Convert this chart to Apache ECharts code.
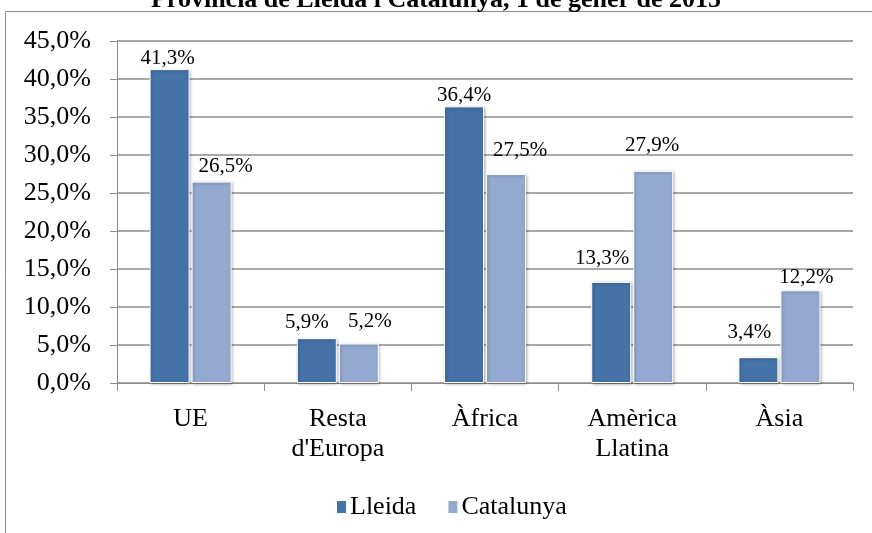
<!DOCTYPE html>
<html>
<head>
<meta charset="utf-8">
<script src="https://cdn.jsdelivr.net/npm/echarts@6/dist/echarts.min.js"></script>
<style>
  html, body { margin: 0; padding: 0; background: #fff; }
  #chart { width: 872px; height: 533px; }
</style>
</head>
<body>
<div id="chart"></div>
<script>
// dades
var categories = ['UE', "Resta\nd'Europa", 'Àfrica', 'Amèrica\nLlatina', 'Àsia'];
var lleida = [41.3, 5.9, 36.4, 13.3, 3.4];
var catalunya = [26.5, 5.2, 27.5, 27.9, 12.2];
var yTicks = [0, 5, 10, 15, 20, 25, 30, 35, 40, 45];

// desplaçament de les etiquetes (com a l'Excel original)
var offLleida = [[-2, 0], [-10, -5], [0, 0], [-9, -13], [-9, -14]];
var offCatalunya = [[14, -5], [11, -11], [14, -13], [-1, -15], [6, -2]];

var serif = '"Liberation Serif", "Times New Roman", serif';

function fmt(v) {
	return v.toFixed(1).replace('.', ',') + '%';
}

function items(values, offs) {
	var out = [];
	for (var i = 0; i < values.length; i++) {
		out.push({ value: values[i], label: { offset: offs[i] } });
	}
	return out;
}

var myChart = echarts.init(document.getElementById('chart'));

var option = {
	backgroundColor: '#fff',
	animation: false,
	graphic: [{
		type: 'rect',
		shape: { x: 5.5, y: 11.5, width: 900, height: 600 },
		style: { fill: 'none', stroke: '#8c8c8c', lineWidth: 1 },
		silent: true
	}],
	title: {
		text: 'Província de Lleida i Catalunya, 1 de gener de 2015',
		left: 'center',
		top: -18,
		textStyle: { fontFamily: serif, fontWeight: 'bold', fontSize: 26, color: '#000' }
	},
	legend: {
		left: 330,
		top: 489,
		itemWidth: 11,
		itemHeight: 14,
		itemGap: 30,
		icon: 'rect',
		textStyle: { fontFamily: serif, fontSize: 26, color: '#000', padding: [0, 0, 0, -2] },
		data: ['Lleida', 'Catalunya']
	},
	grid: { left: 117, right: 19, top: 41, bottom: 150 },
	xAxis: {
		type: 'category',
		data: categories,
		axisLine: { lineStyle: { color: '#8c8c8c', width: 1 } },
		axisTick: { show: true, length: 8, lineStyle: { color: '#8c8c8c' } },
		axisLabel: { fontFamily: serif, fontSize: 26, color: '#000', margin: 21, lineHeight: 30, interval: 0 }
	},
	yAxis: {
		type: 'value',
		min: yTicks[0],
		max: yTicks[yTicks.length - 1],
		interval: 5,
		axisLine: { show: true, lineStyle: { color: '#8c8c8c', width: 1 } },
		axisTick: { show: true, length: 7, lineStyle: { color: '#8c8c8c' } },
		splitLine: { lineStyle: { color: '#8c8c8c', width: 1.5 } },
		axisLabel: {
			fontFamily: serif, fontSize: 26, color: '#000', margin: 26,
			formatter: function (v) { return fmt(v); }
		}
	},
	series: [{
		name: 'Lleida',
		type: 'bar',
		barWidth: 40,
		barGap: '5%',
		data: items(lleida, offLleida),
		itemStyle: {
			color: '#4572a7', borderColor: '#fff', borderWidth: 1,
			shadowColor: 'rgba(0,0,0,0.3)', shadowBlur: 3, shadowOffsetX: 1, shadowOffsetY: 1
		},
		label: {
			show: true, position: 'top', distance: 0,
			fontFamily: serif, fontSize: 21, color: '#000',
			formatter: function (p) { return fmt(p.value); }
		}
	}, {
		name: 'Catalunya',
		type: 'bar',
		barWidth: 40,
		data: items(catalunya, offCatalunya),
		itemStyle: {
			color: '#93a9cf', borderColor: '#fff', borderWidth: 1,
			shadowColor: 'rgba(0,0,0,0.3)', shadowBlur: 3, shadowOffsetX: 1, shadowOffsetY: 1
		},
		label: {
			show: true, position: 'top', distance: 0,
			fontFamily: serif, fontSize: 21, color: '#000',
			formatter: function (p) { return fmt(p.value); }
		}
	}]
};

if (option && typeof option === 'object') {
	myChart.setOption(option, true);
}
</script>
</body>
</html>
